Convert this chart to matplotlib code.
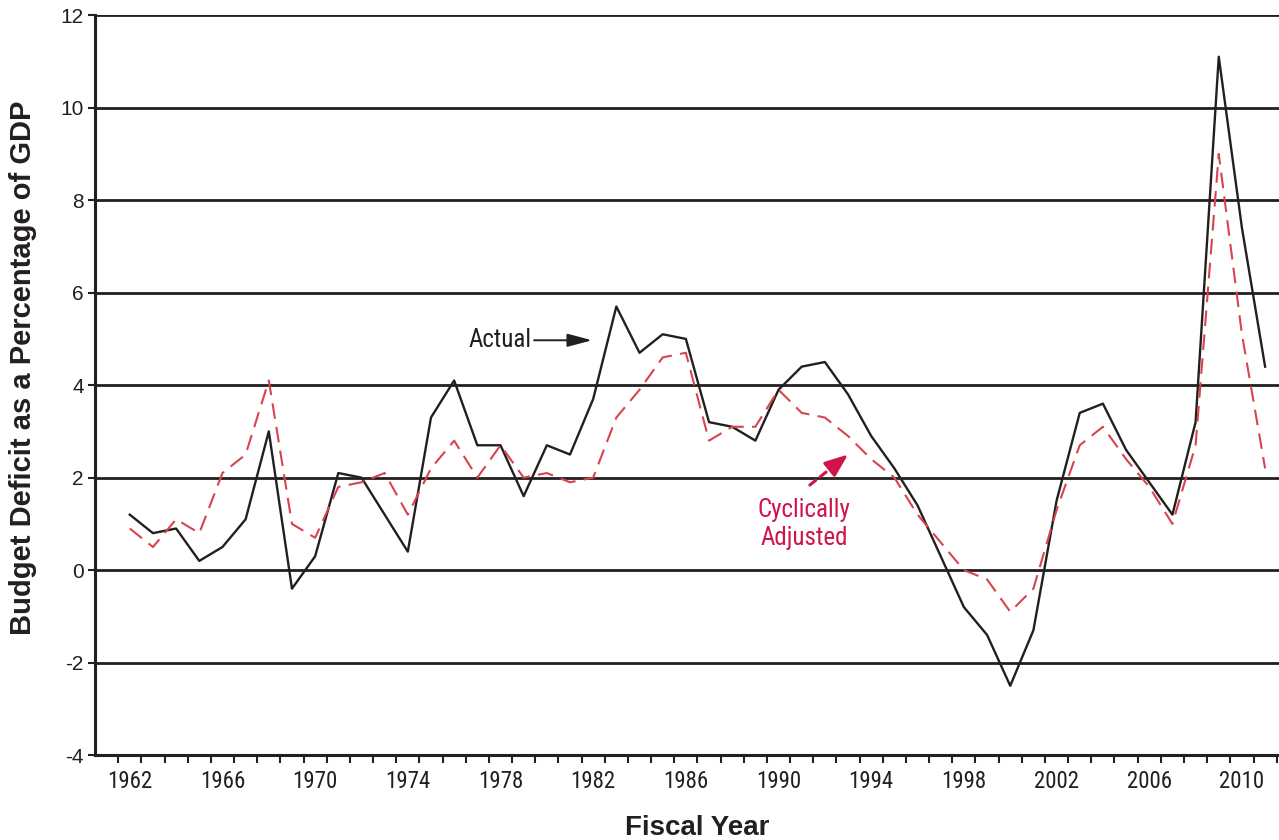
import numpy as np
import matplotlib
matplotlib.use("Agg")
import matplotlib.pyplot as plt
from matplotlib import font_manager

# fiscal years and deficits (% of GDP)
years = np.arange(1962, 2012)
actual = [1.2, 0.8, 0.9, 0.2, 0.5, 1.1, 3.0, -0.4, 0.3, 2.1,
          2.0, 1.2, 0.4, 3.3, 4.1, 2.7, 2.7, 1.6, 2.7, 2.5,
          3.7, 5.7, 4.7, 5.1, 5.0, 3.2, 3.1, 2.8, 3.9, 4.4,
          4.5, 3.8, 2.9, 2.2, 1.4, 0.3, -0.8, -1.4, -2.5, -1.3,
          1.5, 3.4, 3.6, 2.6, 1.9, 1.2, 3.2, 11.1, 7.4, 4.4]
cyclical = [0.9, 0.5, 1.1, 0.8, 2.1, 2.5, 4.1, 1.0, 0.7, 1.8,
            1.9, 2.1, 1.2, 2.2, 2.8, 2.0, 2.7, 2.0, 2.1, 1.9,
            2.0, 3.3, 3.9, 4.6, 4.7, 2.8, 3.1, 3.1, 3.9, 3.4,
            3.3, 2.9, 2.4, 2.0, 1.2, 0.6, 0.0, -0.2, -0.9, -0.4,
            1.3, 2.7, 3.1, 2.4, 1.8, 1.0, 2.7, 9.0, 5.1, 2.2]
label_years = list(range(1962, 2011, 4))
y_ticks = list(range(-4, 13, 2))


def pick_font(names):
    have = {f.name for f in font_manager.fontManager.ttflist}
    for n in names:
        if n in have:
            return n
    return "DejaVu Sans"


narrow = pick_font(["Liberation Sans Narrow", "Roboto Condensed", "DejaVu Sans"])
regular = pick_font(["Liberation Sans", "Arial", "DejaVu Sans"])

ink = "#231f20"
red = "#d9434e"
crimson = "#d0144b"

fig = plt.figure(figsize=(12.79, 8.4), dpi=100)
ax = fig.add_axes([0.0743, 0.101, 0.9257, 0.881])

ax.plot(years, actual, color=ink, lw=1.7, zorder=3)
ax.plot(years, cyclical, color=red, lw=1.5, dashes=(7.5, 4), zorder=4)

ax.set_xlim(1960.5, 2011.6)
ax.set_ylim(-4, 12)

ax.set_yticks(y_ticks)
ax.set_yticklabels([str(v) for v in y_ticks], fontsize=15, family=regular, color=ink)
ax.yaxis.grid(True, color=ink, lw=2.0, zorder=1)
ax.set_axisbelow(True)

ax.set_xticks(label_years)
ax.set_xticklabels([str(y) for y in label_years], fontsize=16.5, family=narrow, color=ink)
ax.set_xticks(np.arange(1961.5, 2012, 1), minor=True)
ax.tick_params(axis="x", which="major", length=0, pad=11)
ax.tick_params(axis="x", which="minor", length=6, width=1.5, color=ink)
ax.tick_params(axis="y", which="major", length=5, width=1.5, color=ink, pad=3)

for side in ("top", "right"):
    ax.spines[side].set_visible(False)
for side in ("left", "bottom"):
    ax.spines[side].set_linewidth(2.2)
    ax.spines[side].set_color(ink)

ax.set_ylabel("Budget Deficit as a Percentage of GDP", fontsize=21,
              family=regular, fontweight="bold", color=ink, va="center")
ax.yaxis.set_label_coords(-0.061, 0.524)
ax.set_xlabel("Fiscal Year", fontsize=20, family=regular, fontweight="bold",
              color=ink, va="center")
ax.xaxis.set_label_coords(0.509, -0.099)

# annotations
ax.annotate("", xy=(1981.95, 4.97), xytext=(1979.45, 4.97),
            arrowprops=dict(arrowstyle="-|>,head_length=1.5,head_width=0.4",
                            color=ink, lw=1.4, shrinkA=0, shrinkB=0))
ax.text(1979.35, 4.97, "Actual", fontsize=18, family=narrow, color=ink,
        ha="right", va="center")

# dashed shaft, then a solid head
ax.annotate("", xy=(1992.5, 2.3), xytext=(1991.35, 1.84),
            arrowprops=dict(arrowstyle="-", color=crimson, lw=2.2,
                            linestyle=(0, (2.5, 1.8)), shrinkA=0, shrinkB=0))
ax.annotate("", xy=(1993.0, 2.5), xytext=(1992.3, 2.22),
            arrowprops=dict(arrowstyle="-|>,head_length=1.4,head_width=0.55",
                            color=crimson, lw=2.2, shrinkA=0, shrinkB=0))
ax.text(1991.1, 1.56, "Cyclically\nAdjusted", fontsize=18, family=narrow,
        color=crimson, ha="center", va="top", linespacing=1.2)

fig.savefig("out.png", dpi=100)
